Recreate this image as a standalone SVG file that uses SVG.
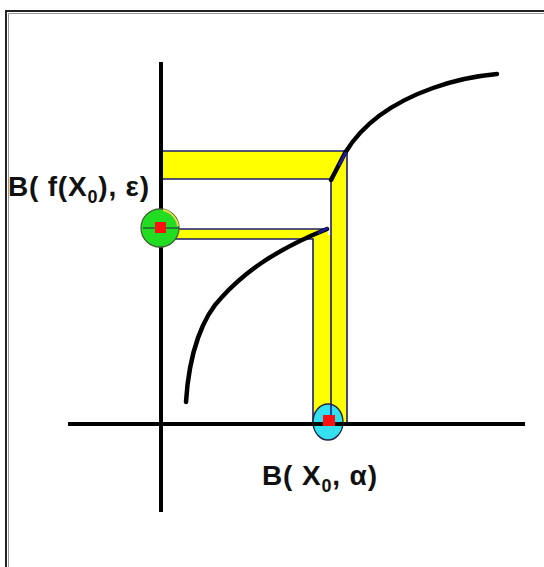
<svg xmlns="http://www.w3.org/2000/svg" width="544" height="567" viewBox="0 0 544 567">
<style>
.band{fill:#ffff00;stroke:none}
.edge{stroke:#1c1c70;stroke-width:1.6;fill:none}
.axis{stroke:#000;stroke-width:4;fill:none}
.curve{stroke:#000;stroke-width:4.5;fill:none;stroke-linecap:round}
.lbl{font-family:"Liberation Sans",Arial,sans-serif;font-weight:bold;font-size:28px;fill:#111}
</style>
<rect width="544" height="567" fill="#fff"/>
<g id="frame">
<path d="M6,567 V11 H544" fill="none" stroke="#222" stroke-width="2"/>
<path d="M8.5,567 V13.5 H544" fill="none" stroke="#999" stroke-width="1"/>
</g>
<g id="bands">
<rect class="band" x="162" y="151" width="185" height="28"/>
<rect class="band" x="331" y="179" width="16" height="245"/>
<rect class="band" x="162" y="229" width="166" height="10"/>
<rect class="band" x="313" y="235" width="18" height="189"/>
</g>
<g id="connectors">
<path class="edge" d="M162,151 H347 V424"/>
<path class="edge" d="M162,179 H331 V418"/>
<path class="edge" d="M162,229 H326"/>
<path class="edge" d="M162,239 H313 V424"/>
</g>
<g id="axes">
<line class="axis" x1="161" y1="62" x2="161" y2="512"/>
<line class="axis" x1="68" y1="424" x2="525" y2="424"/>
</g>
<g id="curves">
<path class="curve" d="M186,402 C189,352 203,316 222,297 C245,272 275,250 327,229"/>
<path class="curve" d="M331,180 L345,153 C360,128 385,105 433,88 C455,80 475,76 497,74"/>
<path d="M318,233 L328,228" stroke="#1c1c90" stroke-width="3"/>
<path d="M339,166 L346,152" stroke="#1c1c90" stroke-width="3"/>
</g>
<g id="ball-epsilon">
<circle cx="160" cy="228" r="19" fill="#22dd22" stroke="#446633" stroke-width="1.3"/>
<path d="M163,210 A19,19 0 0 1 178,226" fill="none" stroke="#e8d84a" stroke-width="2"/>
<line x1="143" y1="228" x2="179" y2="228" stroke="#224" stroke-width="1"/>
<rect x="155" y="222" width="11" height="11" fill="#ff1010"/>
</g>
<g id="ball-alpha">
<ellipse cx="328" cy="422" rx="15" ry="18" fill="#33e0f0" stroke="#224" stroke-width="1.3"/>
<line x1="331" y1="404" x2="331" y2="418" stroke="#1c1c90" stroke-width="1.6"/>
<line x1="313" y1="424" x2="343" y2="424" stroke="#000" stroke-width="4"/>
<rect x="323" y="415" width="12" height="11" fill="#ff1010"/>
</g>
<g id="labels">
<text class="lbl" x="8" y="196" textLength="141" lengthAdjust="spacing">B( f(X<tspan font-size="18" dy="7">0</tspan><tspan dy="-7">), ε)</tspan></text>
<text class="lbl" x="262" y="485" textLength="115" lengthAdjust="spacing">B( X<tspan font-size="18" dy="7">0</tspan><tspan dy="-7">, α)</tspan></text>
</g>
</svg>
